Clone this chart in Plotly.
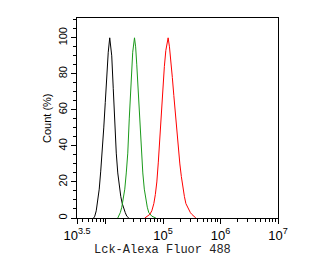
import numpy as np
import plotly.graph_objects as go

# log10 fluorescence positions and % counts
black_x = [3.790, 3.809, 3.835, 3.861, 3.887, 3.913, 3.940, 3.966, 3.992, 4.018, 4.044, 4.070, 4.088, 4.105, 4.131, 4.157, 4.184, 4.210, 4.236, 4.262, 4.288, 4.314, 4.340, 4.367, 4.402]
black_y = [0, 1, 4, 9, 16, 26, 37, 50, 64, 80, 92, 100, 96, 90, 72, 50, 36, 25, 17, 12, 8, 5, 3, 1, 0]

green_x = [4.210, 4.227, 4.254, 4.280, 4.306, 4.332, 4.358, 4.384, 4.410, 4.437, 4.470, 4.501, 4.521, 4.541, 4.567, 4.593, 4.620, 4.646, 4.672, 4.698, 4.724, 4.750, 4.777, 4.803, 4.838, 4.873]
green_y = [0, 1, 3, 6, 10, 16, 25, 36, 55, 75, 92, 100, 95, 85, 68, 52, 37, 25, 16, 10, 6, 3, 2, 1, 0.5, 0]

red_x = [4.680, 4.698, 4.733, 4.768, 4.803, 4.838, 4.864, 4.890, 4.916, 4.942, 4.968, 4.995, 5.021, 5.047, 5.067, 5.087, 5.110, 5.134, 5.160, 5.186, 5.212, 5.239, 5.265, 5.291, 5.317, 5.343, 5.370, 5.396, 5.422, 5.448, 5.474, 5.500, 5.535, 5.570]
red_y = [0, 0.5, 1, 2, 4, 8, 13, 20, 31, 45, 58, 72, 84, 93, 97, 100, 95, 88, 78, 68, 58, 48, 38, 30, 23, 17, 12, 8, 6, 4, 3, 2, 1, 0]

x_tickvals = [3.5, 4, 5, 6, 7]
x_ticktext = ["10<sup>3.5</sup>", "", "10<sup>5</sup>", "10<sup>6</sup>", "10<sup>7</sup>"]
y_tickvals = [0, 20, 40, 60, 80, 100]

x_minor = [float(np.log10(k * 10.0 ** n)) for n in range(3, 7) for k in range(2, 10)]
x_minor = [v for v in x_minor if 3.5 < v < 7]
y_minor = [v for v in range(0, 111, 5) if v % 20 != 0]

fig = go.Figure()
for xs, ys, col in [(black_x, black_y, "black"), (green_x, green_y, "#1a9a1a"), (red_x, red_y, "#ff0000")]:
    fig.add_trace(go.Scatter(x=xs, y=ys, mode="lines", line=dict(color=col, width=1), showlegend=False))

fig.update_layout(
    width=326, height=261,
    margin=dict(l=77, r=48, t=18, b=43),
    paper_bgcolor="white", plot_bgcolor="white",
    font=dict(family="Liberation Sans, Arial", size=11, color="black"),
)
fig.update_xaxes(
    range=[3.5, 7], showgrid=False, zeroline=False,
    showline=True, linecolor="black", linewidth=1, mirror=True,
    tickmode="array", tickvals=x_tickvals, ticktext=x_ticktext,
    ticks="outside", ticklen=5, tickcolor="black", tickwidth=1,
    minor=dict(tickmode="array", tickvals=x_minor, ticks="outside", ticklen=3, tickcolor="black", tickwidth=1),
    tickfont=dict(size=13),
)
fig.update_yaxes(
    range=[0, 111], showgrid=False, zeroline=False,
    showline=True, linecolor="black", linewidth=1, mirror=True,
    tickmode="array", tickvals=y_tickvals, tickangle=-90,
    ticks="outside", ticklen=5, tickcolor="black", tickwidth=1,
    minor=dict(tickmode="array", tickvals=y_minor, ticks="outside", ticklen=3, tickcolor="black", tickwidth=1),
    tickfont=dict(size=11),
)
fig.add_annotation(text="Lck-Alexa Fluor 488", xref="paper", yref="paper",
                   x=(162 - 77) / 201, y=-32 / 200, xanchor="center", yanchor="middle",
                   showarrow=False, font=dict(family="Liberation Mono, monospace", size=12, color="#222"))
fig.add_annotation(text="Count (%)", xref="paper", yref="paper",
                   x=(47 - 77) / 201, y=0.5, xanchor="center", yanchor="middle", textangle=-90,
                   showarrow=False, font=dict(family="Liberation Sans, Arial", size=11, color="black"))
fig.write_html("out.html")
